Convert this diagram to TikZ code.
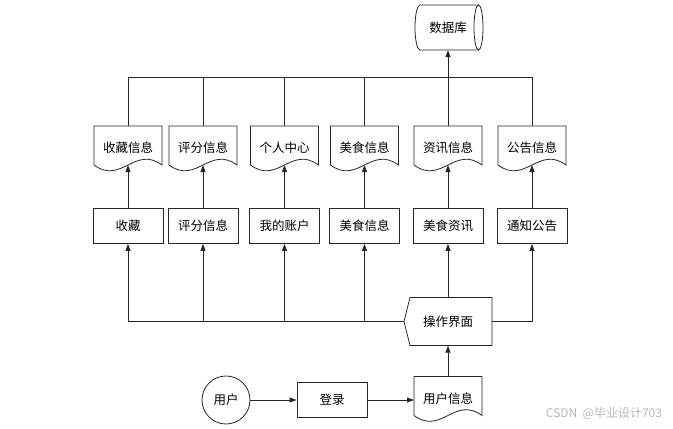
\documentclass[tikz,border=0pt]{standalone}
\usepackage{fontspec}
\setmainfont{Noto Sans CJK SC}
\usetikzlibrary{arrows.meta,calc}
\tikzset{
  ln/.style={draw=black!85, line width=0.8pt},
  arr/.style={ln, -{Triangle[length=7pt,width=5pt]}},
  txt/.style={inner sep=0pt, font=\fontsize{12.5pt}{15pt}\selectfont},
  boxnode/.style={txt, ln, rectangle, minimum width=70pt, minimum height=35pt},
}
\newcommand{\mydoc}[4]{%
  \node[txt] (#1) at (#2,#3+22) {#4};
  \coordinate (#1-n) at (#2,#3);
  \coordinate (#1-s) at (#2,#3+39);
  \coordinate (#1-w) at (#2-34,#3+23.5);
  \draw[ln] (#2-34,#3) -- (#2+34,#3) -- (#2+34,#3+39)
    .. controls (#2+6.8,#3+19) and (#2-6.8,#3+59) .. (#2-34,#3+39) -- cycle;
}
\begin{document}
\begin{tikzpicture}[x=1pt,y=-1pt]
\useasboundingbox (0,0) rectangle (673,429);
% database
\node[txt, minimum width=60pt, minimum height=45pt] (db) at (448,27.5) {数据库};
\draw[ln] (478.5,5) -- (420,5) arc[start angle=90, end angle=270, x radius=5pt, y radius=22.5pt] -- (478.5,50);
\draw[ln] (478.5,27.5) ellipse [x radius=4.5pt, y radius=22.5pt];
% documents
\mydoc{d1}{128}{126}{收藏信息}
\mydoc{d2}{203}{126}{评分信息}
\mydoc{d3}{284.5}{126}{个人中心}
\mydoc{d4}{364.5}{126}{美食信息}
\mydoc{d5}{448}{126}{资讯信息}
\mydoc{d6}{532}{126}{公告信息}
% boxes
\node[boxnode] (r1) at (128,226) {收藏};
\node[boxnode] (r2) at (203,226) {评分信息};
\node[boxnode] (r3) at (284.5,226) {我的账户};
\node[boxnode] (r4) at (364.5,226) {美食信息};
\node[boxnode] (r5) at (448,226) {美食资讯};
\node[boxnode] (r6) at (532,226) {通知公告};
% operation screen
\node[txt, minimum width=88pt, minimum height=48pt] (op) at (448,321.5) {操作界面};
\draw[ln] (410,297.5) -- (492,297.5) -- (492,345.5) -- (410,345.5) -- (404,321.5) -- cycle;
\coordinate (oppt) at (404,321.5);
\coordinate (ope) at (492,321.5);
% bottom row
\node[txt, ln, circle, minimum size=48pt] (u) at (226,400) {用户};
\node[boxnode] (login) at (332,400) {登录};
\mydoc{d7}{448}{376.5}{用户信息}
% connectors bottom
\draw[arr] (u) -- (login);
\draw[arr] (login) -- (d7-w);
\draw[arr] (d7-n) -- (op.south);
% from operation screen
\draw[arr] (oppt) -| (r1.south);
\draw[arr] (r2.south |- oppt) -- (r2.south);
\draw[arr] (r3.south |- oppt) -- (r3.south);
\draw[arr] (r4.south |- oppt) -- (r4.south);
\draw[arr] (op.north) -- (r5.south);
\draw[arr] (ope) -| (r6.south);
% boxes to documents
\foreach \i in {1,...,6} {\draw[arr] (r\i.north) -- (d\i-s);}
% documents to top line and database
\coordinate (tl) at (0,77);
\draw[ln] (d1-n) |- (d6-n |- tl) -- (d6-n);
\foreach \i in {2,3,4} {\draw[ln] (d\i-n) -- (d\i-n |- tl);}
\draw[arr] (d5-n) -- (db.south);
% watermark
\node[font=\fontsize{12pt}{14pt}\selectfont, text=black!28, inner sep=0pt] (wm) at (604,414) {CSDN\ \ @毕业设计703};
\end{tikzpicture}
\end{document}
